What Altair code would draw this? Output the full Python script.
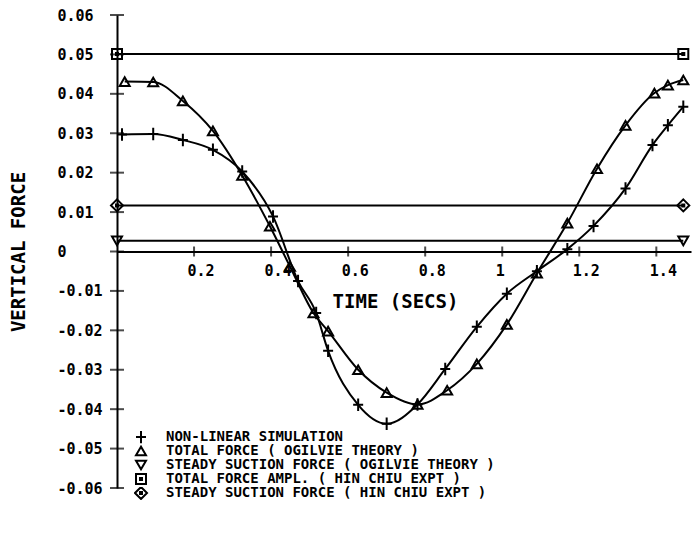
import altair as alt
import pandas as pd

# ---- data ----
series_names = [
    "NON-LINEAR SIMULATION",
    "TOTAL FORCE ( OGILVIE THEORY )",
    "STEADY SUCTION FORCE ( OGILVIE THEORY )",
    "TOTAL FORCE AMPL. ( HIN CHIU EXPT )",
    "STEADY SUCTION FORCE ( HIN CHIU EXPT )",
]

nl_t = [0.013, 0.094, 0.171, 0.249, 0.325, 0.405, 0.47, 0.517, 0.548, 0.626, 0.70,
        0.78, 0.852, 0.934, 1.012, 1.09, 1.169, 1.237, 1.32, 1.39, 1.43, 1.47]
nl_v = [0.0297, 0.0298, 0.0283, 0.0258, 0.0203, 0.0089, -0.0075, -0.0156, -0.0252,
        -0.0389, -0.0437, -0.0388, -0.0298, -0.0191, -0.0107, -0.0050, 0.0006,
        0.0065, 0.0160, 0.0270, 0.0320, 0.0367]

og_t = [0.02, 0.094, 0.171, 0.249, 0.325, 0.397, 0.449, 0.51, 0.548, 0.626, 0.70,
        0.78, 0.857, 0.934, 1.012, 1.09, 1.169, 1.246, 1.32, 1.395, 1.43, 1.47]
og_v = [0.0431, 0.0430, 0.0382, 0.0306, 0.0193, 0.0064, -0.0038, -0.0156, -0.0202,
        -0.0300, -0.0358, -0.0388, -0.0352, -0.0285, -0.0185, -0.0055, 0.0072,
        0.0210, 0.0320, 0.0402, 0.0422, 0.0435]

hl_t = [0.0, 1.47]
ss_og_v = [0.0027, 0.0027]
ta_hc_v = [0.0501, 0.0501]
ss_hc_v = [0.0117, 0.0117]

x_ticks = [0.2, 0.4, 0.6, 0.8, 1.0, 1.2, 1.4]
y_ticks = [-0.06, -0.05, -0.04, -0.03, -0.02, -0.01, 0.0, 0.01, 0.02, 0.03, 0.04, 0.05, 0.06]

shape_paths = [
    "M-1,0H1M0,-1.25V1.25",
    "triangle-up",
    "triangle-down",
    "M-1,-1H1V1H-1ZM-0.2,-0.2H0.2V0.2H-0.2Z",
    "M0,-1.2L1.2,0L0,1.2L-1.2,0ZM-0.2,-0.2H0.2V0.2H-0.2Z",
]

FONT = "DejaVu Sans Mono"
W, H = 574, 473

rows = []
for name, ts, vs in [
    (series_names[0], nl_t, nl_v),
    (series_names[1], og_t, og_v),
    (series_names[2], hl_t, ss_og_v),
    (series_names[3], hl_t, ta_hc_v),
    (series_names[4], hl_t, ss_hc_v),
]:
    for t, v in zip(ts, vs):
        rows.append({"series": name, "t": t, "v": v})
df = pd.DataFrame(rows)

xt_df = pd.DataFrame({"t": x_ticks, "v": [0.0] * len(x_ticks)})
yt_df = pd.DataFrame({"t": [0.0] * len(y_ticks), "v": y_ticks})

xs = alt.Scale(domain=[0, 1.49], nice=False, zero=False)
ys = alt.Scale(domain=[-0.06, 0.06], nice=False, zero=False)
lab = "replace(format(datum.value, '~g'), '\u2212', '-')"

xaxis = alt.Axis(
    values=x_ticks, offset=-H / 2, ticks=False, grid=False,
    domainColor="black", domainWidth=2, labelOverlap=False,
    labelExpr=lab, labelFont=FONT, labelFontSize=15, labelFontWeight="bold",
    labelColor="black", labelAlign="left", labelOffset=-7, labelPadding=12,
    labelBaseline="top",
    title="TIME (SECS)", titleFont=FONT, titleFontSize=19, titleFontWeight="bold",
    titleColor="black", titleX=278, titleY=50, titleAlign="center",
    titleBaseline="middle",
)
yaxis = alt.Axis(
    values=y_ticks, tickCount=13, ticks=False, grid=False,
    domainColor="black", domainWidth=2, labelOverlap=False,
    labelExpr=lab, labelFont=FONT, labelFontSize=15, labelFontWeight="bold",
    labelColor="black", labelAlign="left", labelPadding=60,
    title="VERTICAL FORCE", titleFont=FONT, titleFontSize=19, titleFontWeight="bold",
    titleColor="black", titleX=-99, titleY=H / 2, titleAngle=270,
    titleAlign="center", titleBaseline="middle",
)

X = alt.X("t:Q", scale=xs, axis=xaxis)
Y = alt.Y("v:Q", scale=ys, axis=yaxis)

base = alt.Chart(df)
lines = base.mark_line(color="black", strokeWidth=2, interpolate="monotone").encode(
    x=X, y=Y, detail="series:N",
)
points = base.mark_point(filled=False, color="black", strokeWidth=2, size=100, opacity=1).encode(
    x=X, y=Y,
    shape=alt.Shape(
        "series:N",
        scale=alt.Scale(domain=series_names, range=shape_paths),
        legend=alt.Legend(
            orient="none", legendX=17, legendY=416, title=None, padding=0,
            labelFont=FONT, labelFontSize=14, labelFontWeight="bold", labelColor="black",
            labelLimit=600, labelOffset=18, rowPadding=0, clipHeight=12,
            symbolStrokeColor="black", symbolFillColor="transparent",
            symbolStrokeWidth=2, symbolSize=100,
        ),
    ),
)
xticks = alt.Chart(xt_df).mark_tick(orient="vertical", size=10, thickness=2, color="black").encode(
    x=X, y=Y
)
yticks = alt.Chart(yt_df).mark_tick(orient="horizontal", size=14, thickness=2, color="black").encode(
    x=X, y=Y
)

chart = alt.layer(lines, points, xticks, yticks).properties(
    width=W, height=H,
    autosize=alt.AutoSizeParams(type="none"),
    padding={"left": 117, "top": 15, "right": 2, "bottom": 51},
    background="white",
).configure_view(stroke=None)

chart.save("out.html", embed_options={"renderer": "svg", "actions": False})
